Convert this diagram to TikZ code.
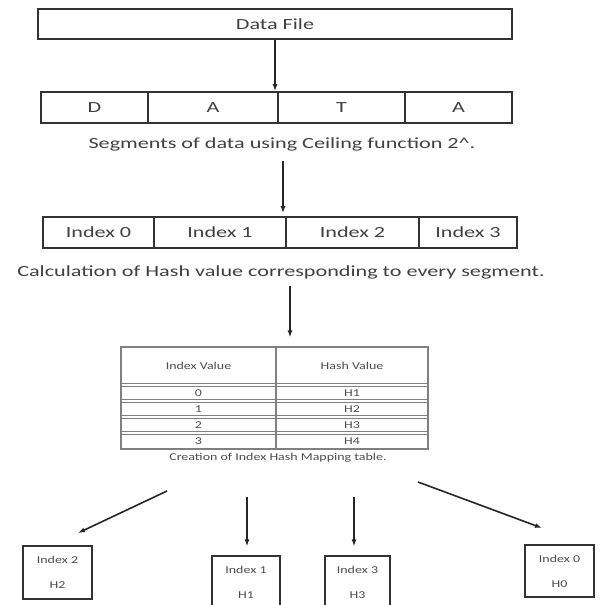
\documentclass[tikz,border=0pt]{standalone}
\usepackage{fontspec}
\usepackage{graphicx}
\setmainfont{Carlito}
\usetikzlibrary{arrows.meta, calc, positioning}

% text in the scan is drawn wider than the font
\newcommand{\wbig}[1]{\scalebox{1.43}[1]{#1}}
\newcommand{\wsmall}[1]{\scalebox{1.33}[1]{#1}}

\begin{document}
\begin{tikzpicture}[x=1pt, y=-1pt,
    box/.style={draw=black!80, line width=1.6pt, inner sep=0pt, text=black!75},
    cell/.style={box, minimum height=31pt},
    res/.style={box, small, line width=1.3pt, align=center},
    arr/.style={-{Latex[length=7pt, width=5pt]}, line width=1.6pt, black!85},
    big/.style={font=\fontsize{15.5}{17}\selectfont, text=black!75},
    small/.style={font=\fontsize{10.5}{12}\selectfont, text=black!70},
    grid/.style={draw=black!50, line width=0.8pt}]
    \useasboundingbox (0,0) rectangle (602,605);

    % data file
    \node[box, big, minimum width=474pt, minimum height=30pt] (file) at (275,24) {\wbig{Data File}};

    % segments D A T A
    \node[cell, big, minimum width=107pt] (segD) at (94.5,107.5) {\wbig{D}};
    \node[cell, big, minimum width=130pt] (segA) at (213,107.5) {\wbig{A}};
    \node[cell, big, minimum width=127pt] (segT) at (341.5,107.5) {\wbig{T}};
    \node[cell, big, minimum width=107pt] (segB) at (458.5,107.5) {\wbig{A}};
    \node[big] (capSeg) at (282,144) {\wbig{Segments of data using Ceiling function 2\textasciicircum.}};

    % index boxes
    \node[cell, big, minimum width=111pt] (idx0) at (98.5,232.5) {\wbig{Index 0}};
    \node[cell, big, minimum width=132pt] (idx1) at (220,232.5) {\wbig{Index 1}};
    \node[cell, big, minimum width=133pt] (idx2) at (352.5,232.5) {\wbig{Index 2}};
    \node[cell, big, minimum width=98pt] (idx3) at (468,232.5) {\wbig{Index 3}};
    \node[big] (capHash) at (281,272) {\wbig{Calculation of Hash value corresponding to every segment.}};

    % mapping table
    \node[grid, line width=1.1pt, minimum width=307pt, minimum height=102pt, inner sep=0pt] (tbl) at (274.5,398) {};
    \draw[grid, line width=1.1pt] (276,347) -- (276,449);
    \foreach \y in {385,401,417,433} {
        \draw[grid] (121,\y-1.2) -- (428,\y-1.2);
        \draw[grid] (121,\y+1.2) -- (428,\y+1.2);
    }
    \node[small] (hIdx) at (198.5,366) {\wsmall{Index Value}};
    \node[small] (hHash) at (352,366) {\wsmall{Hash Value}};
    \foreach \v/\h [count=\i from 0] in {0/H1,1/H2,2/H3,3/H4} {
        \node[small] (v\i) at (198.5,393+16*\i) {\wsmall{\v}};
        \node[small] (h\i) at (352,393+16*\i) {\wsmall{\h}};
    }
    \node[small] (capMap) at (278,458) {\wsmall{Creation of Index Hash Mapping table.}};

    % result boxes
    \node[res, minimum width=69pt, minimum height=53pt] (b2) at (57.5,572.5) {\wsmall{Index 2}\\[13pt]\wsmall{H2}};
    \node[res, minimum width=68pt, minimum height=53pt] (b1) at (246,582.5) {\wsmall{Index 1}\\[13pt]\wsmall{H1}};
    \node[res, minimum width=65pt, minimum height=53pt] (b3) at (357.5,582.5) {\wsmall{Index 3}\\[13pt]\wsmall{H3}};
    \node[res, minimum width=69pt, minimum height=52pt] (b0) at (559.5,571) {\wsmall{Index 0}\\[13pt]\wsmall{H0}};

    % arrows
    \draw[arr] (file.south) -- (file.south |- segT.north);
    \coordinate (a2) at (283,161);
    \draw[arr, shorten >=3pt] (a2) -- (a2 |- idx1.north);
    \coordinate (a3) at (290,286);
    \draw[arr, shorten >=9pt] (a3) -- (a3 |- tbl.north);
    \coordinate (sL) at (167,491);
    \coordinate (tL) at (78,533);
    \draw[arr] (sL) -- (tL);
    \coordinate (s1) at (247,497);
    \draw[arr, shorten >=9pt] (s1) -- (s1 |- b1.north);
    \coordinate (s3) at (354,497);
    \draw[arr, shorten >=9pt] (s3) -- (s3 |- b3.north);
    \coordinate (sR) at (418,482);
    \coordinate (tR) at (542,528);
    \draw[arr] (sR) -- (tR);
\end{tikzpicture}
\end{document}
